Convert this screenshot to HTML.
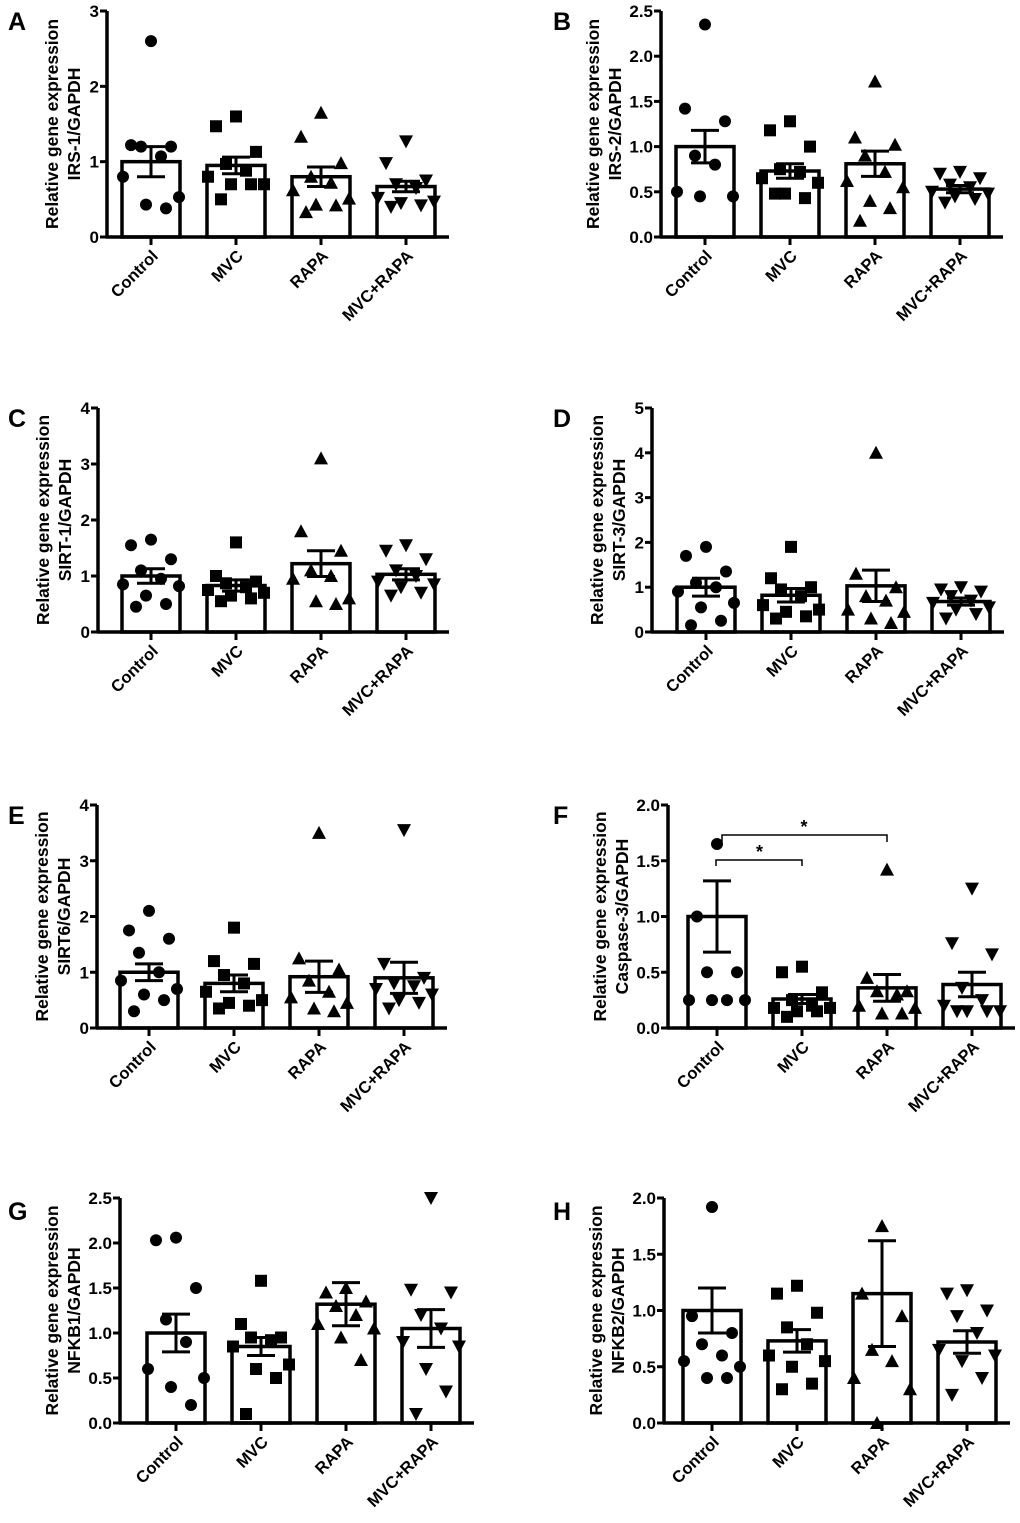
<!DOCTYPE html>
<html><head><meta charset="utf-8"><style>
html,body{margin:0;padding:0;background:#fff;}
svg{display:block;font-family:"Liberation Sans",Arial,sans-serif;}
</style></head><body>
<svg id="fig" width="1020" height="1523" viewBox="0 0 1020 1523" xmlns="http://www.w3.org/2000/svg"></svg>
<script>
const groups = ["Control","MVC","RAPA","MVC+RAPA"];
const markers = ["circle","square","tri-up","tri-down"];
// Panel A
const aTicks=[0,1,2,3]; const aMeans=[1.0,0.95,0.8,0.67]; const aSem=[0.2,0.11,0.13,0.07];
const aPts=[[2.6,1.22,1.2,1.2,1.07,0.8,0.53,0.43,0.38],[1.6,1.47,1.13,0.97,0.88,0.8,0.7,0.7,0.7,0.5],[1.65,1.33,0.98,0.8,0.72,0.62,0.51,0.43,0.42,0.33],[1.27,0.98,0.75,0.7,0.65,0.52,0.47,0.45,0.42,0.4]];
// Panel B
const bTicks=[0,0.5,1,1.5,2,2.5]; const bMeans=[1.0,0.73,0.81,0.53]; const bSem=[0.18,0.08,0.14,0.04];
const bPts=[[2.35,1.42,1.28,0.9,0.8,0.5,0.45,0.45],[1.28,1.18,1.0,0.75,0.72,0.65,0.6,0.48,0.43,0.48],[1.72,1.1,1.02,0.9,0.72,0.62,0.55,0.4,0.32,0.18],[0.72,0.7,0.65,0.58,0.55,0.5,0.48,0.45,0.42,0.38]];
// Panel C
const cTicks=[0,1,2,3,4]; const cMeans=[1.0,0.83,1.22,1.03]; const cSem=[0.13,0.1,0.23,0.1];
const cPts=[[1.65,1.55,1.3,1.1,0.95,0.85,0.82,0.65,0.5,0.45],[1.6,1.0,0.9,0.87,0.8,0.75,0.7,0.65,0.6,0.55],[3.1,1.8,1.45,1.1,1.0,0.95,0.6,0.55,0.5],[1.55,1.45,1.3,1.1,1.0,0.9,0.85,0.8,0.7,0.65]];
// Panel D
const dTicks=[0,1,2,3,4,5]; const dMeans=[1.0,0.82,1.03,0.68]; const dSem=[0.2,0.15,0.35,0.08];
const dPts=[[1.9,1.7,1.35,1.1,1.0,0.9,0.65,0.55,0.25,0.15],[1.9,1.2,1.0,0.95,0.8,0.6,0.5,0.45,0.35,0.3],[4.0,1.3,1.0,0.8,0.7,0.5,0.45,0.3,0.2],[1.0,0.95,0.9,0.8,0.7,0.65,0.55,0.5,0.4,0.3]];
// Panel E
const eTicks=[0,1,2,3,4]; const eMeans=[1.0,0.8,0.92,0.9]; const eSem=[0.15,0.15,0.28,0.28];
const ePts=[[2.1,1.75,1.6,1.35,1.0,0.85,0.7,0.6,0.5,0.3],[1.8,1.2,1.15,0.95,0.8,0.65,0.5,0.45,0.4,0.35],[3.5,1.25,1.05,0.85,0.65,0.55,0.45,0.35,0.3],[3.55,1.15,0.9,0.8,0.75,0.7,0.6,0.5,0.45,0.35]];
// Panel F
const fTicks=[0,0.5,1,1.5,2]; const fMeans=[1.0,0.26,0.36,0.39]; const fSem=[0.32,0.04,0.12,0.11];
const fPts=[[1.65,1.0,0.5,0.5,0.25,0.25,0.25,0.25],[0.55,0.5,0.32,0.25,0.2,0.18,0.18,0.15,0.15,0.1],[1.42,0.45,0.33,0.33,0.3,0.2,0.18,0.13,0.13],[1.25,0.76,0.66,0.36,0.25,0.2,0.15,0.15,0.15,0.15]];
// Panel G
const gTicks=[0,0.5,1,1.5,2,2.5]; const gMeans=[1.0,0.85,1.32,1.05]; const gSem=[0.21,0.1,0.24,0.21];
const gPts=[[2.06,2.03,1.5,1.15,0.9,0.6,0.5,0.4,0.2],[1.58,1.1,0.95,0.95,0.92,0.85,0.65,0.6,0.5,0.1],[1.5,1.45,1.35,1.3,1.2,1.1,1.05,0.95,0.7],[2.5,1.48,1.45,1.2,1.05,0.9,0.85,0.6,0.35,0.1]];
// Panel H
const hTicks=[0,0.5,1,1.5,2]; const hMeans=[1.0,0.73,1.15,0.72]; const hSem=[0.2,0.1,0.47,0.1];
const hPts=[[1.92,0.95,0.8,0.7,0.6,0.55,0.5,0.4,0.4],[1.22,1.15,0.98,0.85,0.7,0.6,0.55,0.5,0.35,0.3],[1.75,1.15,0.95,0.65,0.55,0.4,0.3,0.0],[1.18,1.15,1.0,0.95,0.8,0.65,0.6,0.55,0.4,0.25]];

const NS="http://www.w3.org/2000/svg";
const svg=document.getElementById('fig');
function mk(tag,attrs,parent){const e=document.createElementNS(NS,tag);for(const k in attrs)e.setAttribute(k,attrs[k]);(parent||svg).appendChild(e);return e;}
const jit=[0,-20,20,-10,10,-28,28,-5,15,-15];

const panels=[
 {L:"A",lx:8,ly:30,ax:107,c0:151,top:11,bot:237,ticks:aTicks,dec:false,m:aMeans,s:aSem,p:aPts,gene:"IRS-1/GAPDH"},
 {L:"B",lx:553,ly:30,ax:661,c0:705,top:11,bot:237,ticks:bTicks,dec:true,m:bMeans,s:bSem,p:bPts,gene:"IRS-2/GAPDH"},
 {L:"C",lx:8,ly:427,ax:98,c0:151,top:408,bot:632,ticks:cTicks,dec:false,m:cMeans,s:cSem,p:cPts,gene:"SIRT-1/GAPDH"},
 {L:"D",lx:553,ly:427,ax:652,c0:706,top:408,bot:632,ticks:dTicks,dec:false,m:dMeans,s:dSem,p:dPts,gene:"SIRT-3/GAPDH"},
 {L:"E",lx:8,ly:824,ax:97,c0:149,top:805,bot:1028,ticks:eTicks,dec:false,m:eMeans,s:eSem,p:ePts,gene:"SIRT6/GAPDH"},
 {L:"F",lx:553,ly:824,ax:668,c0:717,top:805,bot:1028,ticks:fTicks,dec:true,m:fMeans,s:fSem,p:fPts,gene:"Caspase-3/GAPDH"},
 {L:"G",lx:8,ly:1220,ax:120,c0:176,top:1198,bot:1423,ticks:gTicks,dec:true,m:gMeans,s:gSem,p:gPts,gene:"NFKB1/GAPDH"},
 {L:"H",lx:553,ly:1220,ax:664,c0:712,top:1198,bot:1423,ticks:hTicks,dec:true,m:hMeans,s:hSem,p:hPts,gene:"NFKB2/GAPDH"}
];

function marker(g,type,x,y){
  let e;
  if(type==="circle") e=mk('circle',{cx:x,cy:y,r:6,fill:'#000'},g);
  else if(type==="square") e=mk('rect',{x:x-6,y:y-6,width:12,height:12,fill:'#000'},g);
  else if(type==="tri-up") e=mk('polygon',{points:`${x-7},${y+6} ${x+7},${y+6} ${x},${y-7}`,fill:'#000'},g);
  else e=mk('polygon',{points:`${x-7},${y-6} ${x+7},${y-6} ${x},${y+7}`,fill:'#000'},g);
  
  
}

panels.forEach(P=>{
  const g=mk('g',{});
  
  
  const ymax=P.ticks[P.ticks.length-1];
  const Y=v=>P.bot-(v/ymax)*(P.bot-P.top);
  const X=i=>P.c0+i*85;
  const xend=X(3)+29+14;
  const lt=mk('text',{x:P.lx,y:P.ly,'font-size':25,'font-weight':'bold'},g);lt.textContent=P.L;
  
  P.m.forEach((v,i)=>{
    const b=mk('rect',{x:X(i)-29,y:Y(v),width:58,height:P.bot-Y(v),fill:'#fff',stroke:'#000','stroke-width':3.5},g);
    
    
  });
  P.p.forEach((arr,i)=>arr.forEach((v,k)=>marker(g,markers[i],X(i)+jit[k%jit.length],Y(v))));
  P.m.forEach((v,i)=>{
    const e=mk('path',{d:`M${X(i)},${Y(v-P.s[i])}V${Y(v+P.s[i])}M${X(i)-14},${Y(v+P.s[i])}H${X(i)+14}M${X(i)-14},${Y(v-P.s[i])}H${X(i)+14}`,stroke:'#000','stroke-width':3,fill:'none'},g);
    
  });
  const ya=mk('path',{d:`M${P.ax},${P.top}V${P.bot}`,stroke:'#000','stroke-width':3.5},g);
  
  const xa=mk('path',{d:`M${P.ax-1},${P.bot}H${xend}`,stroke:'#000','stroke-width':3.5},g);
  
  P.ticks.forEach(t=>{
    mk('path',{d:`M${P.ax-7},${Y(t)}H${P.ax}`,stroke:'#000','stroke-width':3},g);
    const tx=mk('text',{x:P.ax-8,y:Y(t)+6,'font-size':17,'font-weight':'bold','text-anchor':'end'},g);
    tx.textContent=P.dec?t.toFixed(1):String(t);
    
  });
  groups.forEach((n,i)=>{
    mk('path',{d:`M${X(i)},${P.bot}V${P.bot+8}`,stroke:'#000','stroke-width':3},g);
    const tx=mk('text',{x:X(i)+8,y:P.bot+20,'font-size':16.5,'font-weight':'bold','text-anchor':'end',transform:`rotate(-45 ${X(i)+8} ${P.bot+20})`},g);
    tx.textContent=n;
    
  });
  const cy=(P.top+P.bot)/2;
  const o1=P.dec?62:49, o2=P.dec?40:27;
  const yl=mk('text',{'font-size':17.5,'font-weight':'bold','text-anchor':'middle',transform:`translate(${P.ax-o1},${cy}) rotate(-90)`},g);
  yl.textContent="Relative gene expression";
  
  const yl2=mk('text',{'font-size':17.5,'font-weight':'bold','text-anchor':'middle',transform:`translate(${P.ax-o2},${cy}) rotate(-90)`},g);
  yl2.textContent=P.gene;
  
  if(P.L==="F"){
    const br=mk('path',{d:`M${X(0)-1},${866}V${860}H${X(1)}V${866}M${X(0)+5},${842}V${835}H${X(2)}V${842}`,stroke:'#000','stroke-width':1.5,fill:'none'},g);
    
    const s1=mk('text',{x:(X(0)+X(1))/2,y:858,'font-size':18,'font-weight':'bold','text-anchor':'middle'},g);s1.textContent="*";
    
    const s2=mk('text',{x:(X(0)+X(2))/2+2,y:833,'font-size':18,'font-weight':'bold','text-anchor':'middle'},g);s2.textContent="*";
    
  }
});
</script>
</body></html>
